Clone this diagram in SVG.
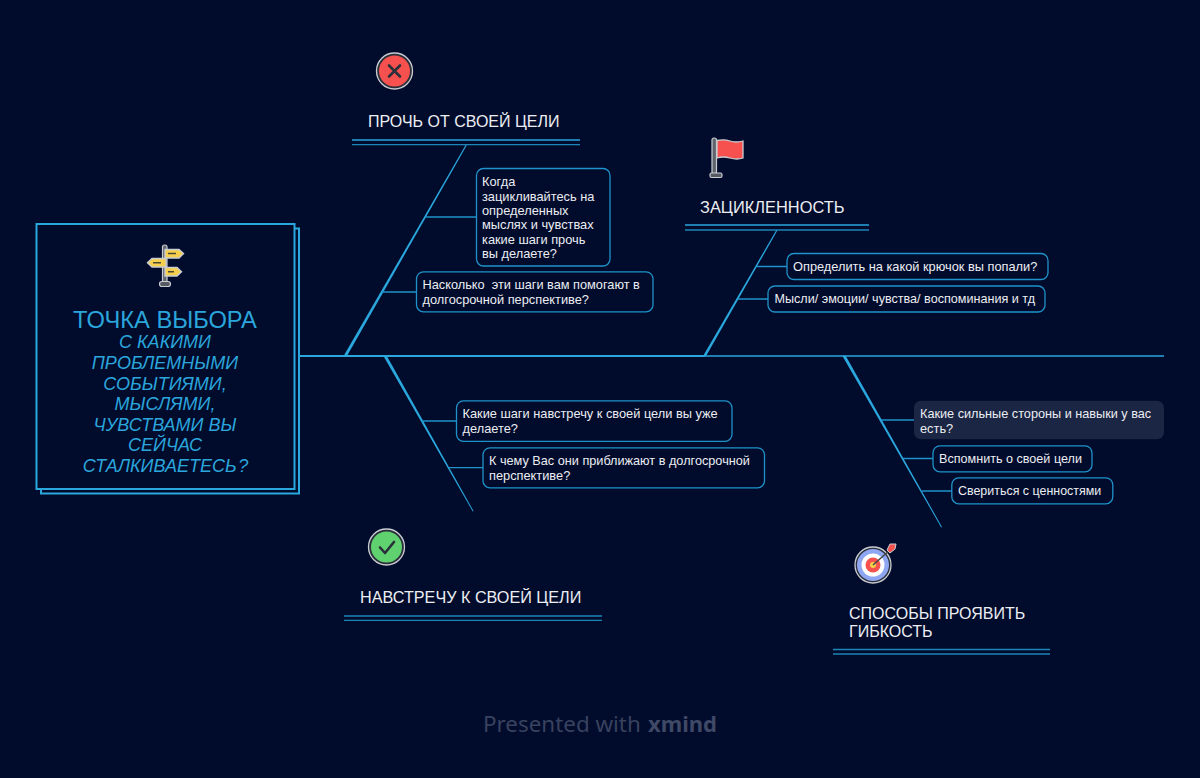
<svg xmlns="http://www.w3.org/2000/svg" width="1200" height="778" viewBox="0 0 1200 778">
<style>
text{font-family:"Liberation Sans",Arial,sans-serif;white-space:pre}
.t{font-size:16.2px;fill:#eceef2}
.n{font-size:12.8px;fill:#eceef2}
.box{fill:#010b2c;stroke:#1f93c9;stroke-width:1.3}
.bone{fill:#2aa7dd}
.c{stroke:#1f93c9;stroke-width:1.3;fill:none}
.u1{stroke:#2aa7dd;stroke-width:1.6;fill:none}
.u2{stroke:#1d86b8;stroke-width:1.3;fill:none}
.main{fill:#010b2c;stroke:#2aa7dd;stroke-width:2}
.hd{font-size:23.7px;fill:#2ba6dc;text-anchor:middle}
.sub{font-size:18px;font-style:italic;fill:#2ba6dc;text-anchor:middle}
.ol{fill:#2a2f3a;stroke:#c9cdd2;stroke-width:1.3}
.dk{stroke:#2a2f3a;stroke-width:2.6;fill:none;stroke-linecap:round;stroke-linejoin:round}
</style>
<rect width="1200" height="778" fill="#010b2c"/>
<g id="connectors">
<path d="M299 356H704" stroke="#2aa7dd" stroke-width="2" fill="none"/>
<path d="M704 356H1164" stroke="#2aa7dd" stroke-width="1.300" fill="none"/>
<path class="bone" d="M343.300 356.500L465.800 144.800L466.800 145.300L346.700 356.500Z"/>
<path class="bone" d="M702.800 356.500L776.500 229.800L777.500 230.300L705.800 356.500Z"/>
<path class="bone" d="M383.300 355.800L386.700 355.800L473.500 511L472.700 511.400Z"/>
<path class="bone" d="M842.300 355.800L845.700 355.800L942 527L941.200 527.400Z"/>
<path class="c" d="M425 217H476M382 292H416.500M757 266.500H787M738 299H768M422 421H456.500M449 467.700H483M881 420H914M903 458.500H933M922 491H952"/>
</g>
<g id="central">
<rect class="main" x="41" y="228.500" width="258" height="265"/>
<rect class="main" x="36.500" y="224" width="258" height="265"/>
<g id="icon-sign">
<rect x="162.500" y="245" width="4.500" height="39" rx="2" fill="#5f646d" stroke="#c9cdd2" stroke-width="1.200"/>
<rect x="159.500" y="281.500" width="11" height="5" rx="2.500" fill="#555a63" stroke="#c9cdd2" stroke-width="1.200"/>
<path d="M165 249.500H179L183.500 253.500L179 258H165Z" fill="#f6d04d" stroke="#c9cdd2" stroke-width="1.400"/>
<path d="M166 258.500H152L147.500 262.800L152 267H166Z" fill="#f6d04d" stroke="#c9cdd2" stroke-width="1.400"/>
<path d="M165 267.500H177L181.500 271.800L177 276H165Z" fill="#f6d04d" stroke="#c9cdd2" stroke-width="1.400"/>
<path d="M168 253.500H176M153 262.800H161M168 271.800H174" stroke="#4a4a3a" stroke-width="1.500"/>
</g>
<text class="hd" x="165" y="327.500">ТОЧКА ВЫБОРА</text>
<text class="sub" x="165" y="348">С КАКИМИ</text>
<text class="sub" x="165" y="369">ПРОБЛЕМНЫМИ</text>
<text class="sub" x="165" y="389.500">СОБЫТИЯМИ,</text>
<text class="sub" x="165" y="410">МЫСЛЯМИ,</text>
<text class="sub" x="165" y="430.500">ЧУВСТВАМИ ВЫ</text>
<text class="sub" x="165" y="451">СЕЙЧАС</text>
<text class="sub" x="165.500" y="471.500" style="word-spacing:-3.500px">СТАЛКИВАЕТЕСЬ ?</text>
</g>
<g id="topic-away">
<circle class="ol" cx="394.500" cy="71" r="18"/>
<circle cx="394.500" cy="71" r="15.500" fill="#f6514f"/>
<path class="dk" d="M389 65.500L400 76.500M400 65.500L389 76.500"/>
<text class="t" x="368" y="127" style="font-size:16px">ПРОЧЬ ОТ СВОЕЙ ЦЕЛИ</text>
<path class="u1" d="M352 140H580"/><path class="u2" d="M352 144.700H580"/>
</g>
<g id="node-a1"><rect class="box" x="476.500" y="168.500" width="133.500" height="97.500" rx="7"/>
<text class="n" x="482" y="186">Когда</text><text class="n" x="482" y="200.500">зацикливайтесь на</text><text class="n" x="482" y="215">определенных</text><text class="n" x="482" y="229">мыслях и чувствах</text><text class="n" x="482" y="243.500">какие шаги прочь</text><text class="n" x="482" y="258">вы делаете?</text></g>
<g id="node-a2"><rect class="box" x="416.500" y="271.800" width="236.500" height="40" rx="7"/>
<text class="n" x="422.500" y="289" style="font-size:12.75px">Насколько  эти шаги вам помогают в</text><text class="n" x="422.500" y="303.500">долгосрочной перспективе?</text></g>
<g id="topic-loop">
<g id="icon-flag">
<rect x="712" y="138" width="4.500" height="36" rx="2" fill="#5f646d" stroke="#c9cdd2" stroke-width="1.200"/>
<rect x="710" y="173" width="12" height="4.500" rx="1.500" fill="#555a63" stroke="#c9cdd2" stroke-width="1.200"/>
<path d="M717 140.500Q724 139 730 141T743 141V158Q737 160 730 158T717 158Z" fill="#f6514f" stroke="#c9cdd2" stroke-width="1.300"/>
</g>
<text class="t" x="700" y="213" style="font-size:16.4px">ЗАЦИКЛЕННОСТЬ</text>
<path class="u1" d="M685 225H869"/><path class="u2" d="M685 230H869"/>
</g>
<g id="node-b1"><rect class="box" x="787" y="253.500" width="261" height="26" rx="7"/><text class="n" x="793" y="271">Определить на какой крючок вы попали?</text></g>
<g id="node-b2"><rect class="box" x="768" y="286" width="277" height="26" rx="7"/><text class="n" x="774.500" y="303" style="font-size:12.6px">Мысли/ эмоции/ чувства/ воспоминания и тд</text></g>
<g id="topic-towards">
<circle class="ol" cx="386.500" cy="547" r="18"/>
<circle cx="386.500" cy="547" r="15.500" fill="#5fd16f"/>
<path class="dk" d="M380 547.500L385 553L394 542"/>
<text class="t" x="360" y="603">НАВСТРЕЧУ К СВОЕЙ ЦЕЛИ</text>
<path class="u2" d="M344 616H602" style="stroke-width:1.600"/><path class="u2" d="M344 620.300H602"/>
</g>
<g id="node-c1"><rect class="box" x="456.500" y="400.800" width="275.500" height="40.500" rx="7"/>
<text class="n" x="462.500" y="418">Какие шаги навстречу к своей цели вы уже</text><text class="n" x="462.500" y="432.500">делаете?</text></g>
<g id="node-c2"><rect class="box" x="483" y="447.800" width="281.500" height="40" rx="7"/>
<text class="n" x="489" y="465" style="font-size:12.7px">К чему Вас они приближают в долгосрочной</text><text class="n" x="489" y="479.500">перспективе?</text></g>
<g id="topic-flex">
<g id="icon-target">
<circle cx="873" cy="565" r="18" fill="#2a2f3a" stroke="#c9cdd2" stroke-width="1.300"/>
<circle cx="873" cy="565" r="16" fill="#8fa6f2"/>
<circle cx="873" cy="565" r="11.500" fill="#fff"/>
<circle cx="873" cy="565" r="7.500" fill="#f6514f"/>
<circle cx="873" cy="565" r="3" fill="#f6d04d"/>
<path d="M873 565L890 550" stroke="#444" stroke-width="1.500"/>
<path d="M887 550L890 544L896 544L895 549L890 553Z" fill="#f6514f" stroke="#c9cdd2"/>
</g>
<text class="t" x="849" y="619" style="font-size:16px">СПОСОБЫ ПРОЯВИТЬ</text><text class="t" x="849" y="637" style="font-size:16px">ГИБКОСТЬ</text>
<path class="u2" d="M833 649.500H1050"/><path class="u2" d="M833 654H1050" style="stroke-width:1.600"/>
</g>
<g id="node-d1"><rect x="914" y="400.800" width="250" height="38.500" rx="7" fill="#1b2544"/>
<text class="n" x="920" y="418" style="font-size:12.7px">Какие сильные стороны и навыки у вас</text><text class="n" x="920" y="432.500">есть?</text></g>
<g id="node-d2"><rect class="box" x="933" y="445.800" width="159" height="26" rx="7"/><text class="n" x="939" y="463" style="font-size:12.6px">Вспомнить о своей цели</text></g>
<g id="node-d3"><rect class="box" x="951.800" y="477.800" width="161" height="26" rx="7"/><text class="n" x="958" y="495" style="font-size:12.45px">Свериться с ценностями</text></g>
<g id="watermark"><text x="483" y="732" style="font-family:'Noto Sans',sans-serif;font-size:22.400px" fill="#38425f">Presented with</text>
<text x="648" y="732" style="font-family:'Noto Sans',sans-serif;font-size:22px;font-weight:700" fill="#3f4966">xmind</text></g>
</svg>
